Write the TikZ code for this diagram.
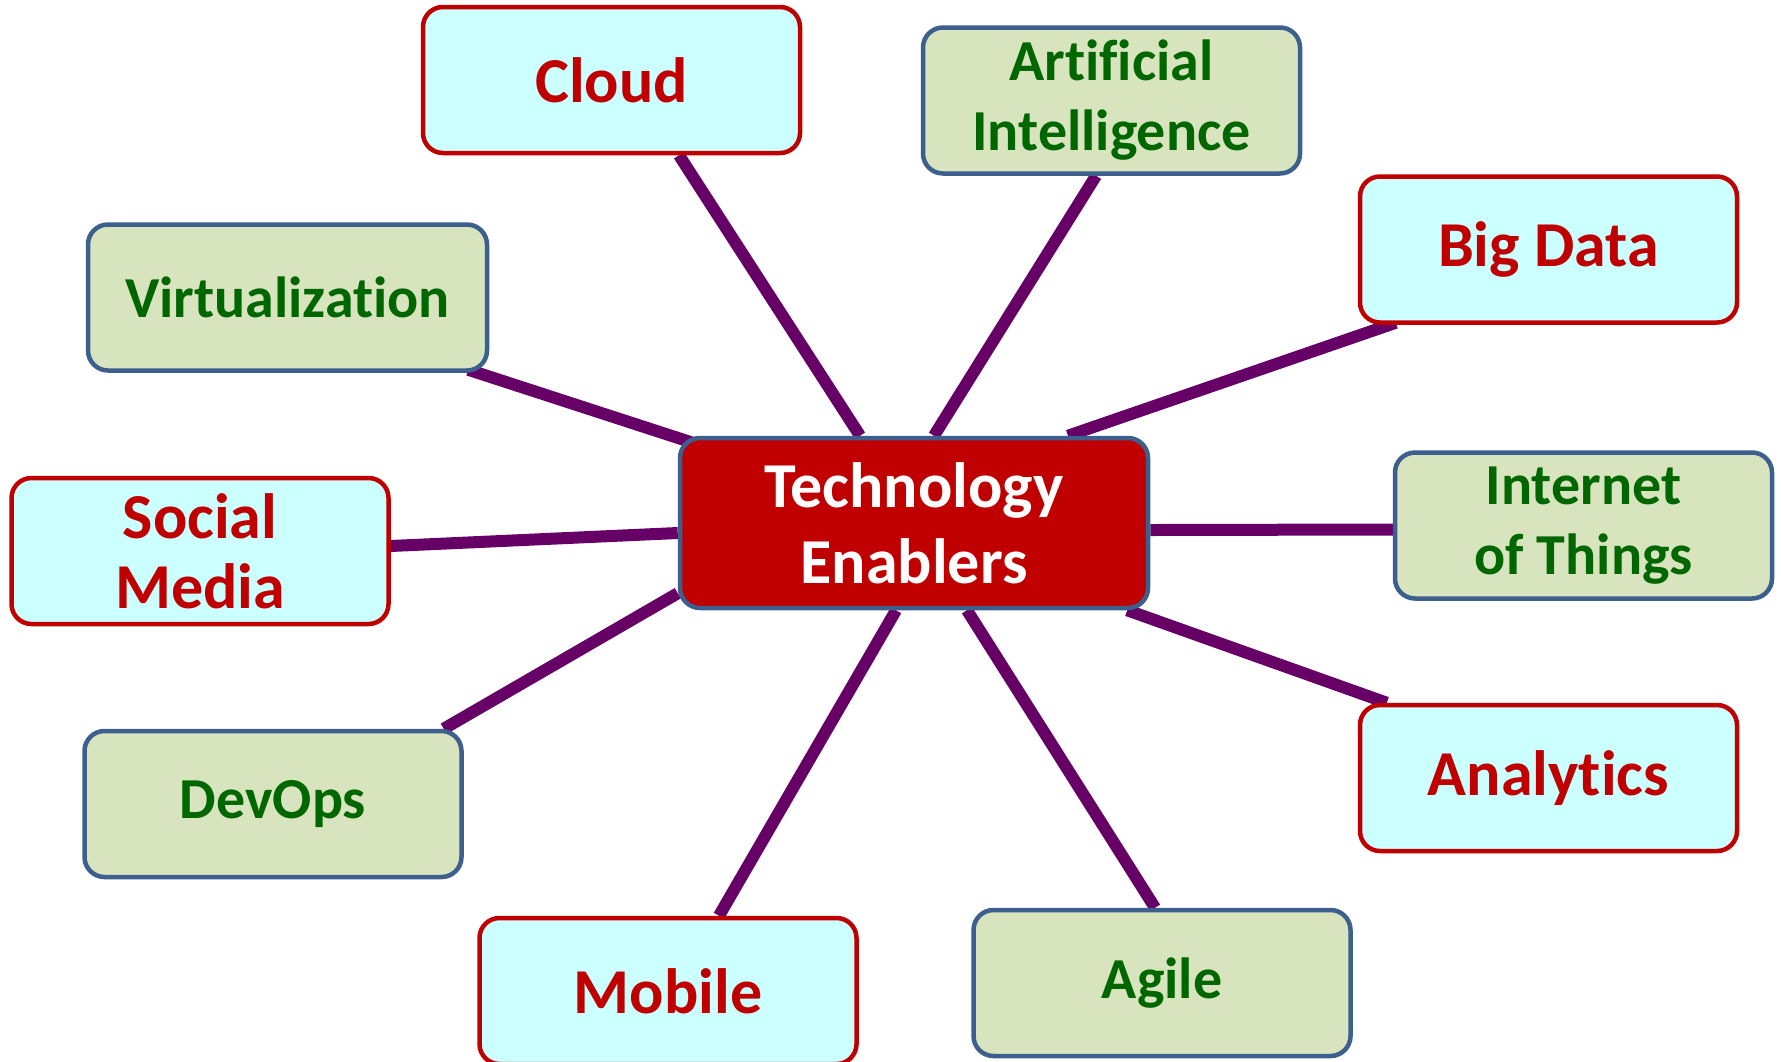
\documentclass[tikz,border=0pt]{standalone}
\usepackage{fontspec}
\setmainfont{Carlito}[Ligatures={NoCommon,NoContextual}, RawFeature={-liga;-clig;-dlig}]
\usetikzlibrary{positioning, backgrounds}
\definecolor{boxred}{HTML}{C00000}
\definecolor{boxblue}{HTML}{3C5F8E}
\definecolor{lightcyan}{HTML}{CCFFFF}
\definecolor{lightolive}{HTML}{D7E4BD}
\definecolor{darkgreen}{HTML}{006600}
\definecolor{linkpurple}{HTML}{660066}
\begin{document}
\begin{tikzpicture}[
	x=0.5pt, y=-0.5pt,
	every node/.style = {shape=rectangle, rounded corners=10pt, line width=2.25pt, minimum width=188.5pt, minimum height=73pt, align=center},
	redbox/.style = {draw=boxred, fill=lightcyan, text=boxred, font=\fontsize{32}{35}\selectfont\bfseries},
	greenbox/.style = {draw=boxblue, fill=lightolive, text=darkgreen, font=\fontsize{29}{35}\selectfont\bfseries},
	hub/.style = {draw=boxblue, fill=boxred, text=white, minimum width=234pt, minimum height=85pt, font=\fontsize{32}{38}\selectfont\bfseries},
	link/.style = {draw=linkpurple, line width=6pt},
	]
\useasboundingbox (0,0) rectangle (1781,1061);
% centre
\node[hub] (tech) at (914,523) {Technology\\Enablers};
% boxes round it, clockwise from the top
\node[redbox] (cloud) at (611.5,80) {Cloud};
\node[greenbox] (ai) at (1111.5,100.5) {Artificial\\Intelligence};
\node[redbox] (bigdata) at (1548.5,249.5) {Big Data};
\node[greenbox] (iot) at (1583.5,525.5) {Internet\\of Things};
\node[redbox] (analytics) at (1548.5,778) {Analytics};
\node[greenbox] (agile) at (1162,983) {Agile};
\node[redbox] (mobile) at (668,991) {Mobile};
\node[greenbox] (devops) at (273,804) {DevOps};
\node[redbox] (social) at (200,551) {Social\\Media};
\node[greenbox, minimum width=199.5pt] (virt) at (287.5,297.5) {Virtualization};
% links, behind the boxes
\begin{pgfonlayer}{background}
\draw[link] ([xshift=33.75pt]cloud.south) -- ([xshift=-27pt]tech.north);
\draw[link] ([xshift=-7.75pt]ai.south) -- ([xshift=10pt]tech.north);
\draw[link] ([xshift=19pt, yshift=1pt]bigdata.south west) -- ([xshift=77pt]tech.north);
\draw[link] ([yshift=-2pt]iot.west) -- ([yshift=-3.5pt]tech.east);
\draw[link] ([xshift=14.5pt]analytics.north west) -- ([xshift=-11.5pt]tech.south east);
\draw[link] ([xshift=-3.5pt]agile.north) -- ([xshift=26.5pt]tech.south);
\draw[link] ([xshift=25.5pt]mobile.north) -- ([xshift=-9pt]tech.south);
\draw[link] ([xshift=-10pt]devops.north east) -- ([yshift=8.5pt]tech.south west);
\draw[link] ([yshift=2.5pt]social.east) -- ([yshift=-5pt]tech.west);
\draw[link] ([xshift=-10.5pt, yshift=1.5pt]virt.south east) -- ([xshift=7.5pt, yshift=-3.5pt]tech.north west);
\end{pgfonlayer}
\end{tikzpicture}
\end{document}
